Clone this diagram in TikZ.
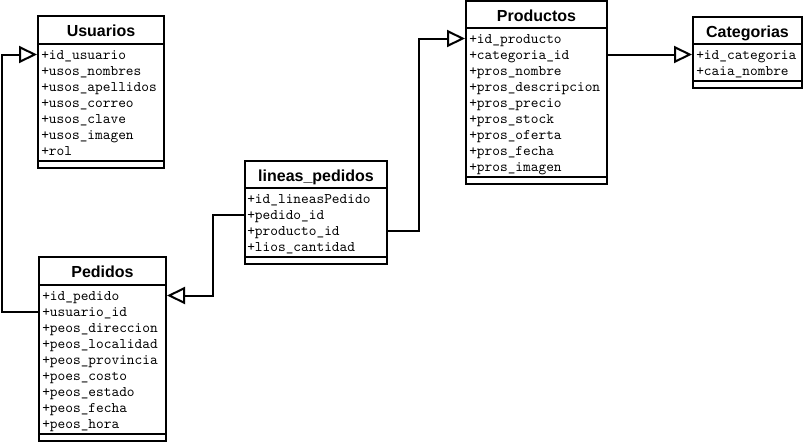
\documentclass[tikz,border=0pt]{standalone}
\usepackage{fontspec}
\setmainfont{Liberation Sans}
\newfontfamily\attrfont{Latin Modern Mono}
\usetikzlibrary{arrows.meta,fit}
\tikzset{
  umlpart/.style={draw=black, line width=1.5pt, inner sep=0pt, fill=white},
  umltitle/.style={inner sep=0pt, anchor=base, font=\fontsize{12}{14}\selectfont\bfseries},
  umlattr/.style={inner sep=0pt, anchor=base west, text height=6.75pt, text depth=0pt,
                  font=\attrfont\fontsize{11}{12}\selectfont},
  conn/.style={draw=black, line width=1.5pt,
               -{Triangle[length=13.5pt, width=12.75pt, fill=white, line width=1.5pt]}}
}
% #1 id, #2 left x, #3 right x, #4 top y, #5 header height, #6 title, #7 text inset, #8 rows
\newcommand\umlbox[8]{%
  \pgfmathsetmacro\umlhb{#4+#5}%
  \foreach \t [count=\i] in {#8} {\xdef\umlcount{\i}}%
  \pgfmathsetmacro\umlbb{\umlhb+16*\umlcount+5}%
  \pgfmathsetmacro\umlfb{\umlbb+7}%
  \node[umlpart, fit={(#2,#4) (#3,\umlhb)}] (#1-h) {};
  \node[umltitle] (#1-t) at ({(#2+#3)/2},{#4+20}) {#6};
  \node[umlpart, fit={(#2,\umlhb) (#3,\umlbb)}] (#1-b) {};
  \node[umlpart, fit={(#2,\umlbb) (#3,\umlfb)}] (#1-f) {};
  \foreach \t [count=\i] in {#8} {
    \node[umlattr] (#1-\i) at ({#2+#7},{\umlhb+15+16*(\i-1)}) {\t};
  }
}
\begin{document}
\begin{tikzpicture}[x=0.75pt, y=-0.75pt]
\useasboundingbox[fill=white] (0,0) rectangle (806,444);

\umlbox{U}{38}{164}{16}{28}{Usuarios}{3}{+id\_usuario,+usos\_nombres,+usos\_apellidos,+usos\_correo,+usos\_clave,+usos\_imagen,+rol}
\umlbox{P}{39}{166}{257}{28}{Pedidos}{3}{+id\_pedido,+usuario\_id,+peos\_direccion,+peos\_localidad,+peos\_provincia,+poes\_costo,+peos\_estado,+peos\_fecha,+peos\_hora}
\umlbox{L}{245}{387}{161}{27}{lineas\_pedidos}{2}{+id\_lineasPedido,+pedido\_id,+producto\_id,+lios\_cantidad}
\umlbox{R}{466}{607}{1}{27}{Productos}{3}{+id\_producto,+categoria\_id,+pros\_nombre,+pros\_descripcion,+pros\_precio,+pros\_stock,+pros\_oferta,+pros\_fecha,+pros\_imagen}
\umlbox{C}{693}{802}{17}{27}{Categorias}{3}{+id\_categoria,+caia\_nombre}

\draw[conn] (P-b.west |- P-2) -- ++(-36,0) |- (U-b.west |- U-1);
\draw[conn] (L-b.west |- L-2) -- ++(-31,0) |- (P-b.east |- P-1);
\draw[conn] (L-b.east |- L-3) -- ++(31,0) |- (R-b.west |- R-1);
\draw[conn] (R-b.east |- R-2) -- (C-b.west |- C-1);
\end{tikzpicture}
\end{document}
